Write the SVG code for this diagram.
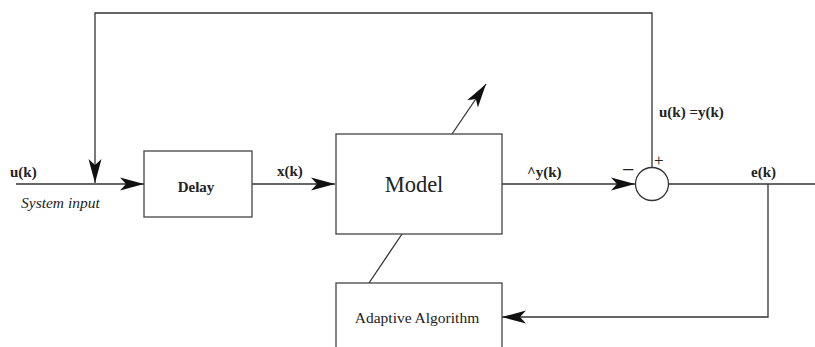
<svg xmlns="http://www.w3.org/2000/svg" width="815" height="347" viewBox="0 0 815 347">
<style>
.ln{fill:none;stroke:#333;stroke-width:1.3}
.bx{fill:#fff;stroke:#444;stroke-width:1.3}
text{font-family:"Liberation Serif","DejaVu Serif",serif;fill:#222}
.lb{font-weight:bold;font-size:15px}
</style>
<defs>
<marker id="ah" markerUnits="userSpaceOnUse" markerWidth="26" markerHeight="16" refX="24" refY="8" orient="auto">
<path d="M0,1.5 L24,8 L0,14.5 L6,8 Z" fill="#111"/>
</marker>
</defs>
<g id="connectors">
<polyline class="ln" points="652,167 652,13 95,13 95,183" marker-end="url(#ah)"/>
<line class="ln" x1="16" y1="184" x2="144" y2="184" marker-end="url(#ah)"/>
<line class="ln" x1="252" y1="184" x2="335" y2="184" marker-end="url(#ah)"/>
<line class="ln" x1="502" y1="184" x2="635" y2="184" marker-end="url(#ah)"/>
<line class="ln" x1="668" y1="184" x2="815" y2="184"/>
<polyline class="ln" points="768,184 768,317 502,317" marker-end="url(#ah)"/>
<line class="ln" x1="452" y1="134" x2="486" y2="84" marker-end="url(#ah)"/>
<line class="ln" x1="402" y1="234" x2="369" y2="283"/>
</g>
<g id="delay">
<rect class="bx" x="144" y="151" width="108" height="66"/>
<text class="lb" x="196" y="192" text-anchor="middle" font-size="16.5">Delay</text>
</g>
<g id="model">
<rect class="bx" x="336" y="134" width="166" height="100"/>
<text x="414" y="192" font-size="22.5" text-anchor="middle">Model</text>
</g>
<g id="adaptive">
<rect class="bx" x="336" y="283" width="166" height="70"/>
<text x="417" y="323" font-size="15.5" text-anchor="middle">Adaptive Algorithm</text>
</g>
<g id="sum">
<circle cx="652" cy="184" r="16.5" fill="#fff" stroke="#333" stroke-width="1.3"/>
<text x="622" y="177" font-size="22">−</text>
<text x="654" y="166" font-size="17">+</text>
</g>
<g id="labels">
<text class="lb" x="10" y="177">u(k)</text>
<text x="21" y="208" font-size="15.5" font-style="italic">System input</text>
<text class="lb" x="277" y="176">x(k)</text>
<text class="lb" x="527" y="177">^y(k)</text>
<text class="lb" x="659" y="117">u(k) =y(k)</text>
<text class="lb" x="751" y="177">e(k)</text>
</g>
</svg>
